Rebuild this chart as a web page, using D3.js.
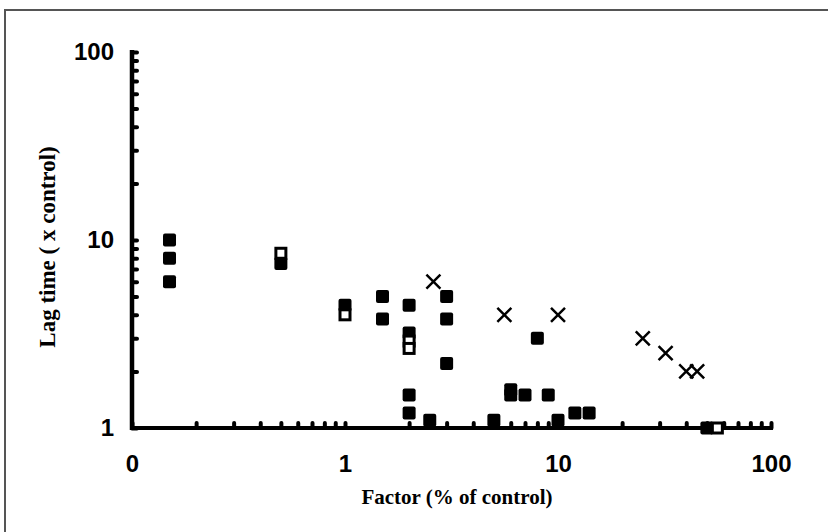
<!DOCTYPE html>
<html>
<head>
<meta charset="utf-8">
<script src="https://cdn.jsdelivr.net/npm/d3@7"></script>
<style>
  body { margin: 0; background: #fff; }
  svg { display: block; }
</style>
</head>
<body>
<div id="main"></div>
<script>
// filled squares
const filledX = [0.15, 0.15, 0.15, 0.5, 1, 1.5, 1.5, 2, 2, 2, 2, 2.5, 3, 3, 3, 5, 6, 6, 7, 8, 9, 10, 12, 14, 50];
const filledY = [10, 8, 6, 7.5, 4.5, 5, 3.8, 4.5, 3.2, 1.5, 1.2, 1.1, 5, 3.8, 2.2, 1.1, 1.6, 1.5, 1.5, 3, 1.5, 1.1, 1.2, 1.2, 1];
// open squares
const openX = [0.5, 1, 2, 2, 56];
const openY = [8.5, 4, 2.9, 2.65, 1];
// crosses
const crossX = [2.6, 5.6, 10, 25, 32, 40, 45];
const crossY = [6, 4, 4, 3, 2.5, 2, 2];

const xTicks = [0.1, 0.2, 0.3, 0.4, 0.5, 0.6, 0.7, 0.8, 0.9, 1, 2, 3, 4, 5, 6, 7, 8, 9, 10, 20, 30, 40, 50, 60, 70, 80, 90, 100];
const yTicks = [1, 2, 3, 4, 5, 6, 7, 8, 9, 10, 20, 30, 40, 50, 60, 70, 80, 90, 100];
const xLabels = {0.1: '0', 1: '1', 10: '10', 100: '100'};
const yLabels = {1: '1', 10: '10', 100: '100'};

const width = 828, height = 532;
const svg = d3.select('#main').append('svg')
  .attr('width', width)
  .attr('height', height);

// frame (only top and left edges fall inside the picture)
svg.append('rect')
  .attr('x', 5).attr('y', 10)
  .attr('width', 900).attr('height', 600)
  .attr('fill', 'none')
  .attr('stroke', '#555')
  .attr('stroke-width', 2);

const x = d3.scaleLog().domain([0.1, 100]).range([132, 771]);
const y = d3.scaleLog().domain([1, 100]).range([428, 52]);

const labelFont = '"Liberation Sans", Arial, sans-serif';
const titleFont = '"Liberation Serif", "Times New Roman", serif';

// x axis
const gx = svg.append('g')
  .attr('transform', 'translate(0,' + y(1) + ')')
  .call(d3.axisBottom(x).tickValues(xTicks).tickSizeInner(-5).tickSizeOuter(0).tickPadding(27)
    .tickFormat(d => xLabels[d] || ''));
gx.select('.domain').attr('stroke', '#000').attr('stroke-width', 4)
  .attr('d', 'M' + (x(0.1) - 2) + ',0H' + (x(100) + 2));
gx.selectAll('.tick line').attr('stroke', '#000').attr('stroke-width', 4).attr('stroke-linecap', 'round');
gx.selectAll('.tick text')
  .attr('font-family', labelFont).attr('font-weight', 'bold').attr('font-size', 24).attr('fill', '#000');

// y axis
const gy = svg.append('g')
  .attr('transform', 'translate(' + x(0.1) + ',0)')
  .call(d3.axisLeft(y).tickValues(yTicks).tickSizeInner(-5).tickSizeOuter(0).tickPadding(18)
    .tickFormat(d => yLabels[d] || ''));
gy.select('.domain').attr('stroke', '#000').attr('stroke-width', 4.5)
  .attr('d', 'M0,' + (y(1) + 2) + 'V' + (y(100) - 2));
gy.selectAll('.tick line').attr('stroke', '#000').attr('stroke-width', 4).attr('stroke-linecap', 'round');
gy.selectAll('.tick text')
  .attr('font-family', labelFont).attr('font-weight', 'bold').attr('font-size', 24).attr('fill', '#000');

// titles
svg.append('text')
  .attr('x', 457).attr('y', 504)
  .attr('text-anchor', 'middle')
  .attr('font-family', titleFont).attr('font-weight', 'bold').attr('font-size', 21)
  .text('Factor (% of control)');

svg.append('text')
  .attr('transform', 'translate(55,247) rotate(-90)')
  .attr('text-anchor', 'middle')
  .attr('font-family', titleFont).attr('font-weight', 'bold').attr('font-size', 23)
  .text('Lag time ( x control)');

const plot = svg.append('g');
const s = 13;

plot.selectAll('.filled')
  .data(d3.zip(filledX, filledY))
  .enter().append('rect')
  .attr('class', 'filled')
  .attr('x', d => x(d[0]) - s / 2)
  .attr('y', d => y(d[1]) - s / 2)
  .attr('width', s).attr('height', s)
  .attr('rx', 2)
  .attr('fill', '#000');

plot.selectAll('.open')
  .data(d3.zip(openX, openY))
  .enter().append('rect')
  .attr('class', 'open')
  .attr('x', d => x(d[0]) - s / 2 + 1.5)
  .attr('y', d => y(d[1]) - s / 2 + 1.5)
  .attr('width', s - 3).attr('height', s - 3)
  .attr('fill', '#fff')
  .attr('stroke', '#000')
  .attr('stroke-width', 3);

const c = 7;
plot.selectAll('.cross')
  .data(d3.zip(crossX, crossY))
  .enter().append('path')
  .attr('class', 'cross')
  .attr('d', d => {
    const cx = x(d[0]), cy = y(d[1]);
    return 'M' + (cx - c) + ',' + (cy - c) + 'L' + (cx + c) + ',' + (cy + c) +
      'M' + (cx - c) + ',' + (cy + c) + 'L' + (cx + c) + ',' + (cy - c);
  })
  .attr('stroke', '#000')
  .attr('stroke-width', 2.5)
  .attr('fill', 'none');
</script>
</body>
</html>
